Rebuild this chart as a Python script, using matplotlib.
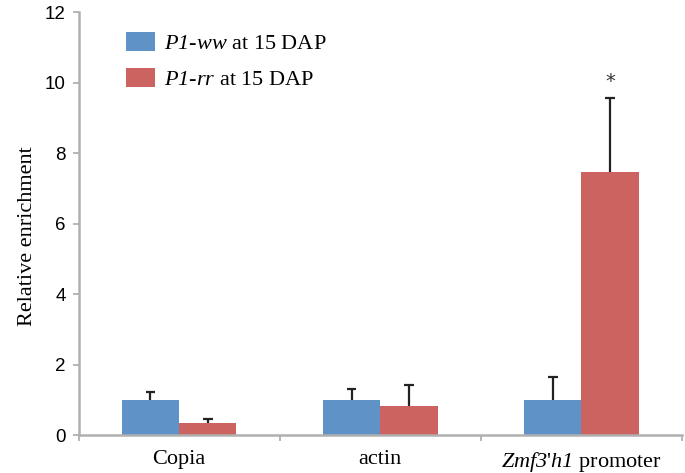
import matplotlib
matplotlib.use("Agg")
import matplotlib.pyplot as plt
import numpy as np

categories = ["Copia", "actin", r"$Zmf3$'$h1$ promoter"]
ww_vals = [1.0, 1.0, 1.0]
ww_err = [0.23, 0.30, 0.64]
rr_vals = [0.34, 0.83, 7.47]
rr_err = [0.10, 0.59, 2.10]
labels = [r"$P1$-$ww$ at 15 DAP", r"$P1$-$rr$ at 15 DAP"]

BLUE = "#5f93c8"
RED = "#cc6360"
SPINE = "#b0b0b0"
INK = "#222222"

plt.rcParams.update({
    "mathtext.fontset": "custom",
    "mathtext.it": "Liberation Serif:italic",
    "mathtext.rm": "Liberation Serif:italic",
})

fig = plt.figure(figsize=(6.85, 4.73), dpi=100)
ax = fig.add_axes([78.5 / 685, 1 - 435 / 473, (682 - 78.5) / 685, 423 / 473])

x = np.arange(len(categories)) + 0.5
w = 0.285
xb = x - w / 2
xr = x + w / 2
ax.bar(xb, ww_vals, w, color=BLUE, label=labels[0], zorder=2)
ax.bar(xr, rr_vals, w, color=RED, label=labels[1], zorder=2)

# upper-only error bars with a cap
cap = 0.024
for xs, v, e in ((xb, ww_vals, ww_err), (xr, rr_vals, rr_err)):
    v = np.asarray(v)
    e = np.asarray(e)
    ax.vlines(xs, v, v + e, color=INK, lw=1.6, zorder=3)
    ax.hlines(v + e, xs - cap, xs + cap, color=INK, lw=1.6, zorder=3)

ax.text(xr[2], rr_vals[2] + rr_err[2] + 0.45, "*", ha="center",
        va="center", fontsize=14, family="DejaVu Sans", color="#333333")

ax.set_xlim(0, 3)
ax.set_ylim(0, 12)
ax.set_yticks(range(0, 13, 2))
ax.set_yticklabels([str(v) for v in range(0, 13, 2)], family="Liberation Sans",
                   fontsize=13.5)
ax.set_xticks([0, 1, 2, 3])
ax.set_xticklabels([])
ax.set_xticks(x, minor=True)
ax.set_xticklabels(categories, minor=True, family="Liberation Serif", fontsize=16)
ax.tick_params(axis="x", which="minor", length=0, pad=11)
ax.tick_params(axis="x", which="major", length=4, color=SPINE, width=1.3)
ax.tick_params(axis="y", length=4, color=SPINE, width=1.3, pad=5)

for s in ("top", "right"):
    ax.spines[s].set_visible(False)
for s in ("left", "bottom"):
    ax.spines[s].set_color(SPINE)
    ax.spines[s].set_linewidth(1.8)

ax.set_ylabel("Relative enrichment", family="Liberation Serif", fontsize=16,
              labelpad=6)
ax.yaxis.label.set_y(0.47)

ax.legend(loc="upper left", bbox_to_anchor=(126 / 685, 1 - 32 / 473),
          bbox_transform=fig.transFigure, frameon=False, borderpad=0,
          borderaxespad=0, prop={"family": "Liberation Serif", "size": 16},
          handlelength=1.3, handleheight=0.95, handletextpad=0.42,
          labelspacing=0.62)

fig.savefig("out.png", dpi=100)
